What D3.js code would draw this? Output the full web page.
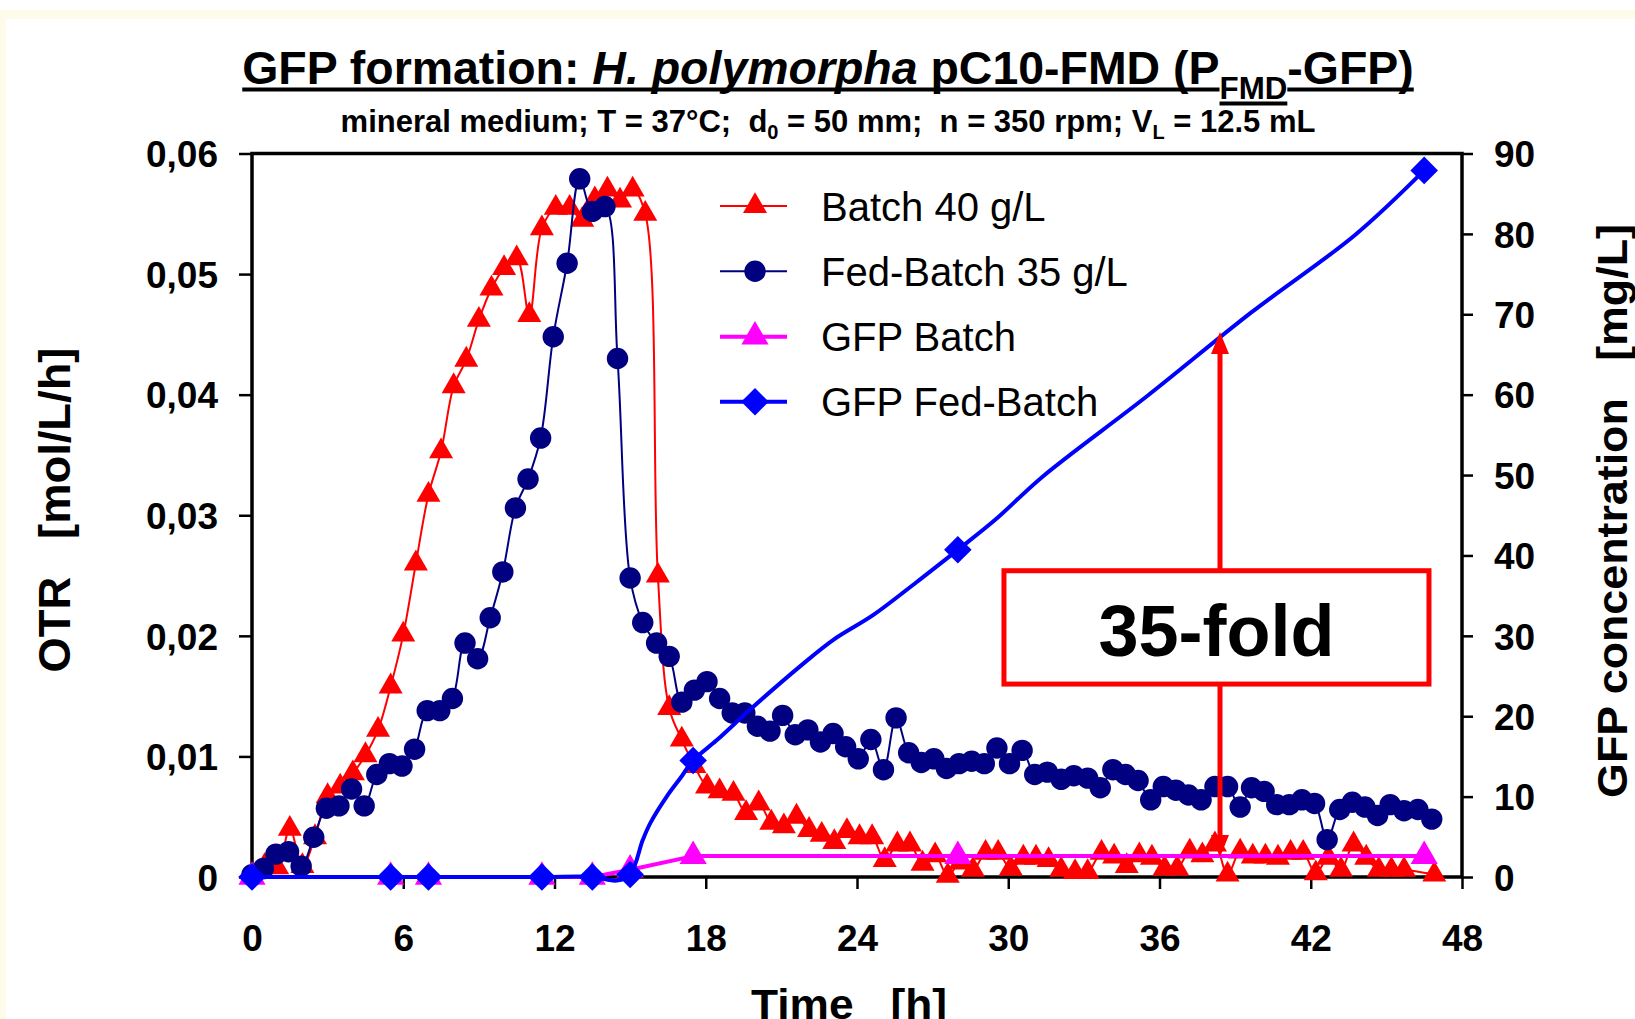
<!DOCTYPE html>
<html><head><meta charset="utf-8">
<script src="https://cdn.jsdelivr.net/npm/d3@7"></script>
<style>
html,body{margin:0;padding:0;background:#fff;}
svg{display:block;}
text{font-family:"Liberation Sans",Arial,sans-serif;}
</style></head><body>
<svg id="chart" width="1635" height="1019"></svg>
<script>
// ---------- data ----------
const timeTicks = [0, 6, 12, 18, 24, 30, 36, 42, 48];
const otrTicks = [0, 0.01, 0.02, 0.03, 0.04, 0.05, 0.06];
const otrTickLabels = ["0", "0,01", "0,02", "0,03", "0,04", "0,05", "0,06"];
const gfpTicks = [0, 10, 20, 30, 40, 50, 60, 70, 80, 90];
const gfpTickLabels = ["0", "10", "20", "30", "40", "50", "60", "70", "80", "90"];

const legendLabels = ["Batch 40 g/L", "Fed-Batch 35 g/L", "GFP Batch", "GFP Fed-Batch"];

// OTR Batch 40 g/L [time h, OTR mol/L/h]
const batchOTR = [
 [0,0],[0.5,0.0009],[1,0.0008],[1.5,0.004],[2,0.0009],[2.5,0.0033],[3,0.0067],[3.5,0.0075],
 [4,0.0086],[4.5,0.0101],[5,0.0122],[5.5,0.0158],[6,0.0201],[6.5,0.026],[7,0.0317],[7.5,0.0353],
 [8,0.0407],[8.5,0.0429],[9,0.0462],[9.5,0.0488],[10,0.0505],[10.5,0.0513],[11,0.0466],[11.5,0.0538],
 [12.05,0.0555],[12.6,0.0555],[13.1,0.0545],[13.6,0.0562],[14.1,0.057],[14.6,0.0561],[15.1,0.057],[15.6,0.055],
 [16.1,0.025],[16.55,0.014],[17.05,0.0114],[17.55,0.0092],[18.05,0.0075],[18.55,0.0071],[19.1,0.0069],[19.6,0.0053],
 [20.1,0.0061],[20.6,0.0045],[21.1,0.0042],[21.6,0.005],[22.1,0.0039],[22.6,0.0035],[23.1,0.0029],[23.6,0.0038],
 [24.1,0.0033],[24.6,0.0033],[25.1,0.0014],[25.6,0.0027],[26.1,0.0027],[26.6,0.0011],[27.1,0.0018],[27.6,0.0001],
 [28.1,0.0012],[28.6,0.0006],[29.1,0.002],[29.6,0.002],[30.1,0.0007],[30.6,0.0016],[31.1,0.0016],[31.6,0.0014],
 [32.1,0.0006],[32.65,0.0004],[33.15,0.0004],[33.7,0.002],[34.2,0.0017],[34.7,0.0009],[35.2,0.0018],[35.7,0.0016],
 [36.2,0.0007],[36.7,0.0007],[37.2,0.0021],[37.7,0.0018],[38.2,0.0027],[38.7,0.0002],[39.2,0.0021],[39.7,0.0017],
 [40.2,0.0017],[40.7,0.0016],[41.2,0.002],[41.7,0.002],[42.2,0.0003],[42.7,0.0016],[43.2,0.0006],[43.7,0.0027],
 [44.2,0.0016],[44.7,0.0006],[45.2,0.0006],[45.7,0.0006],[46.9,0.0002]
];

// OTR Fed-Batch 35 g/L [time h, OTR mol/L/h]
const fedBatchOTR = [
 [0,0.0002],[0.45,0.0007],[0.95,0.0019],[1.45,0.0021],[1.95,0.0009],[2.45,0.0033],[2.95,0.0057],[3.45,0.0059],
 [3.95,0.0073],[4.45,0.0059],[4.95,0.0085],[5.45,0.0094],[5.95,0.0092],[6.45,0.0106],[6.95,0.0138],[7.45,0.0138],
 [7.95,0.0148],[8.45,0.0194],[8.95,0.0181],[9.45,0.0215],[9.95,0.0253],[10.45,0.0306],[10.95,0.033],[11.45,0.0364],
 [11.95,0.0448],[12.5,0.0509],[13.0,0.0579],[13.5,0.0552],[14.0,0.0556],[14.5,0.043],[15.0,0.0248],[15.5,0.0211],
 [16.05,0.0194],[16.55,0.0183],[17.05,0.0145],[17.55,0.0155],[18.05,0.0162],[18.55,0.0148],[19.05,0.0136],[19.55,0.0136],
 [20.05,0.0125],[20.55,0.0121],[21.05,0.0134],[21.55,0.0118],[22.05,0.0122],[22.55,0.0112],[23.05,0.0119],[23.55,0.0108],
 [24.05,0.0098],[24.55,0.0114],[25.05,0.0089],[25.55,0.0132],[26.05,0.0103],[26.55,0.0095],[27.05,0.0098],[27.55,0.009],
 [28.05,0.0094],[28.55,0.0096],[29.05,0.0094],[29.55,0.0107],[30.05,0.0094],[30.55,0.0105],[31.05,0.0085],[31.55,0.0087],
 [32.1,0.0081],[32.6,0.0084],[33.15,0.0082],[33.65,0.0074],[34.15,0.0089],[34.65,0.0085],[35.15,0.008],[35.65,0.0064],
 [36.15,0.0075],[36.65,0.0072],[37.15,0.0068],[37.65,0.0064],[38.2,0.0075],[38.7,0.0075],[39.2,0.0058],[39.65,0.0074],
 [40.15,0.0071],[40.65,0.006],[41.15,0.006],[41.65,0.0064],[42.15,0.0061],[42.65,0.0031],[43.15,0.0056],[43.65,0.0062],
 [44.15,0.0058],[44.65,0.0051],[45.15,0.006],[45.7,0.0055],[46.25,0.0056],[46.8,0.0048]
];

// GFP concentration [time h, mg/L]
const gfpBatch = [[0,0],[5.5,0],[7,0],[11.5,0],[13.5,0],[15,0.9],[17.5,2.6],[28,2.6],[46.5,2.6]];
const gfpFedBatch = [[0,0],[5.5,0],[7,0],[11.5,0],[13.5,0],[15,0.3],[17.5,14.5],[28,40.7],[46.5,87.9]];
// line drawn through the GFP Fed-Batch values
const gfpFedBatchCurve = [
 [0,0],[5.5,0],[7,0],[11.5,0],[13.5,0],[14.07,-0.3],[14.47,-0.45],[15,0.3],[15.5,4.6],[15.8,6.7],
 [16.45,10],[17.04,12.5],[17.5,14.5],[18.43,17],[19.75,20.8],[21.74,26.2],[23.06,29.5],[24.65,32.6],
 [26.37,36.7],[28,40.7],[29.47,44.4],[31.36,49.8],[35.5,59.8],[39.63,70.2],[43.77,79.9],[46.5,87.9]
];

// annotation (time h / GFP mg/L)
const foldLabel = "35-fold";
const arrowTime = 38.4, arrowTop = 67.8, arrowBottom = 2.5;
const boxTime = [29.83, 46.69], boxGFP = [24.0, 38.1];

// ---------- drawing ----------
const W = 1635, H = 1019;
const svg = d3.select("#chart");
svg.append("rect").attr("width", W).attr("height", H).attr("fill", "#fff");
svg.append("rect").attr("x", 0).attr("y", 10).attr("width", W).attr("height", H - 10).attr("fill", "#fffbea");
svg.append("rect").attr("x", 6).attr("y", 19).attr("width", W - 6).attr("height", H - 19).attr("fill", "#fff");

const x = d3.scaleLinear().domain([0, 48]).range([252, 1462]);
const yL = d3.scaleLinear().domain([0, 0.06]).range([877, 153.5]);
const yR = d3.scaleLinear().domain([0, 90]).range([877, 153.5]);

const tickFont = 37;
function styleAxis(g) {
  g.select(".domain").remove();
  g.selectAll(".tick line").attr("stroke", "#000").attr("stroke-width", 2.5);
  g.selectAll(".tick text").attr("fill", "#000").attr("font-size", tickFont)
    .attr("font-weight", "bold").attr("font-family", '"Liberation Sans", Arial, sans-serif');
}

const gL = svg.append("g").attr("transform", "translate(252,0)")
  .call(d3.axisLeft(yL).tickValues(otrTicks).tickFormat((d, i) => otrTickLabels[i]).tickSize(13).tickSizeOuter(0).tickPadding(21));
styleAxis(gL); gL.selectAll(".tick text").attr("dy", "0.36em");

const gR = svg.append("g").attr("transform", "translate(1462,0)")
  .call(d3.axisRight(yR).tickValues(gfpTicks).tickFormat((d, i) => gfpTickLabels[i]).tickSize(11).tickSizeOuter(0).tickPadding(21));
styleAxis(gR); gR.selectAll(".tick text").attr("dy", "0.36em");

const gB = svg.append("g").attr("transform", "translate(0,877)")
  .call(d3.axisBottom(x).tickValues(timeTicks).tickFormat(d3.format("d")).tickSize(12).tickSizeOuter(0));
styleAxis(gB); gB.selectAll(".tick text").attr("dy", null).attr("y", 74);

// frame
svg.append("rect").attr("x", x(0)).attr("y", yL(0.06)).attr("width", x(48) - x(0)).attr("height", yL(0) - yL(0.06))
  .attr("fill", "none").attr("stroke", "#000").attr("stroke-width", 3.5);

// symbols
const triSym = (s) => d3.symbol().type(d3.symbolTriangle).size(s)();
const circSym = (s) => d3.symbol().type(d3.symbolCircle).size(s)();
const diamSym = (s) => d3.symbol().type(d3.symbolSquare).size(s)();

function drawSeries(data, yScale, color, lw, curve) {
  const line = d3.line().x(d => x(d[0])).y(d => yScale(d[1])).curve(curve);
  svg.append("path").datum(data).attr("d", line).attr("fill", "none").attr("stroke", color)
    .attr("stroke-width", lw).attr("stroke-linejoin", "round");
}
function drawMarkers(data, yScale, color, markerPath, rotate) {
  svg.append("g").selectAll("path").data(data).join("path")
    .attr("d", markerPath)
    .attr("transform", d => `translate(${x(d[0])},${yScale(d[1])})` + (rotate ? " rotate(45)" : ""))
    .attr("fill", color);
}

const smooth = d3.curveCatmullRom.alpha(0.5);
const triRed = triSym(250), circNavy = circSym(360), triMag = triSym(320), diamBlue = diamSym(380);
drawSeries(batchOTR, yL, "#ff0000", 2, smooth);
drawMarkers(batchOTR, yL, "#ff0000", triRed);
drawSeries(fedBatchOTR, yL, "#000080", 2, smooth);
drawMarkers(fedBatchOTR, yL, "#000080", circNavy);
drawSeries(gfpBatch, yR, "#ff00ff", 4, d3.curveLinear);
drawMarkers(gfpBatch, yR, "#ff00ff", triMag);
drawSeries(gfpFedBatchCurve, yR, "#0000ff", 4, smooth);
drawMarkers(gfpFedBatch, yR, "#0000ff", diamBlue, true);

// legend
const legendStyles = [
  {color: "#ff0000", lw: 2, path: triRed, rot: false},
  {color: "#000080", lw: 2, path: circNavy, rot: false},
  {color: "#ff00ff", lw: 4, path: triMag, rot: false},
  {color: "#0000ff", lw: 4, path: diamBlue, rot: true}
];
const legRowY = [206, 271.3, 336.7, 401.7];
const lg = svg.append("g");
legendLabels.forEach((lab, i) => {
  const s = legendStyles[i], yy = legRowY[i];
  lg.append("line").attr("x1", 720).attr("x2", 787).attr("y1", yy).attr("y2", yy).attr("stroke", s.color).attr("stroke-width", s.lw);
  lg.append("path").attr("d", s.path).attr("fill", s.color).attr("transform", `translate(755,${yy})` + (s.rot ? " rotate(45)" : ""));
  lg.append("text").attr("x", 821).attr("y", yy + 14.5).attr("font-size", 40).attr("fill", "#000").text(lab);
});

// annotation arrow
const ax = x(arrowTime);
svg.append("line").attr("x1", ax).attr("x2", ax).attr("y1", yR(arrowTop) + 18).attr("y2", yR(arrowBottom) - 18)
  .attr("stroke", "#ff0000").attr("stroke-width", 5);
svg.append("path").attr("d", `M${ax},${yR(arrowTop)} L${ax - 9},${yR(arrowTop) + 22} L${ax + 9},${yR(arrowTop) + 22} Z`).attr("fill", "#ff0000");
svg.append("path").attr("d", `M${ax},${yR(arrowBottom)} L${ax - 9},${yR(arrowBottom) - 22} L${ax + 9},${yR(arrowBottom) - 22} Z`).attr("fill", "#ff0000");
// box
svg.append("rect").attr("x", x(boxTime[0])).attr("y", yR(boxGFP[1]))
  .attr("width", x(boxTime[1]) - x(boxTime[0])).attr("height", yR(boxGFP[0]) - yR(boxGFP[1]))
  .attr("fill", "#fff").attr("stroke", "#ff0000").attr("stroke-width", 5);
svg.append("text").attr("x", (x(boxTime[0]) + x(boxTime[1])) / 2).attr("y", 656).attr("text-anchor", "middle")
  .attr("font-size", 72).attr("font-weight", "bold").attr("fill", "#000").text(foldLabel);

// helper to fit a text's advance width
function fit(sel, target, cx, cy, rot) {
  const w = sel.node().getComputedTextLength();
  let s = target / w; s = Math.max(0.85, Math.min(1.15, s));
  sel.attr("x", 0).attr("y", 0)
    .attr("transform", `translate(${cx},${cy})` + (rot ? ` rotate(${rot})` : "") + ` scale(${s},1)`);
  return s;
}

// title with manual underline
const titleG = svg.append("g");
const title = titleG.append("text").attr("text-anchor", "middle").attr("font-size", 46).attr("font-weight", "bold")
  .attr("fill", "#000").attr("xml:space", "preserve").style("white-space", "pre");
const t1 = title.append("tspan").text("GFP formation: ");
title.append("tspan").attr("font-style", "italic").text("H. polymorpha");
const t3 = title.append("tspan").text(" pC10-FMD (P");
const t4 = title.append("tspan").attr("font-size", 31).attr("dy", 15).text("FMD");
const t5 = title.append("tspan").attr("dy", -15).text("-GFP)");
const tw = title.node().getComputedTextLength();
const ts = Math.max(0.85, Math.min(1.15, 1172 / tw));
title.attr("x", 0).attr("y", 0);
titleG.attr("transform", `translate(828,83.5) scale(${ts},1)`);
try {
  const b1 = t1.node().getBBox(), b3 = t3.node().getBBox(), b4 = t4.node().getBBox(), b5 = t5.node().getBBox();
  const ul = (xa, xb, yy) => titleG.append("rect").attr("x", xa).attr("y", yy).attr("width", xb - xa).attr("height", 4).attr("fill", "#000");
  ul(b1.x, b3.x + b3.width, 4);
  ul(b4.x, b4.x + b4.width, 18);
  ul(b5.x, b5.x + b5.width, 4);
} catch (e) { title.style("text-decoration", "underline"); }

// subtitle
const sub = svg.append("text").attr("text-anchor", "middle").attr("font-size", 31).attr("font-weight", "bold")
  .attr("fill", "#000").attr("xml:space", "preserve").style("white-space", "pre");
sub.append("tspan").text("mineral medium; T = 37°C;  d");
sub.append("tspan").attr("font-size", 20).attr("dy", 7).text("0");
sub.append("tspan").attr("dy", -7).text(" = 50 mm;  n = 350 rpm; V");
sub.append("tspan").attr("font-size", 20).attr("dy", 7).text("L");
sub.append("tspan").attr("dy", -7).text(" = 12.5 mL");
fit(sub, 975, 828, 131.5);

// axis titles
const yLab = svg.append("text").attr("text-anchor", "middle").attr("font-size", 44).attr("font-weight", "bold")
  .attr("fill", "#000").attr("xml:space", "preserve").style("white-space", "pre").text("OTR   [mol/L/h]");
fit(yLab, 325, 70, 510, -90);
const yRLab = svg.append("text").attr("text-anchor", "middle").attr("font-size", 43).attr("font-weight", "bold")
  .attr("fill", "#000").attr("xml:space", "preserve").style("white-space", "pre").text("GFP concentration   [mg/L]");
fit(yRLab, 574, 1627, 511, -90);
const xLab = svg.append("text").attr("text-anchor", "middle").attr("font-size", 42).attr("font-weight", "bold")
  .attr("fill", "#000").attr("xml:space", "preserve").style("white-space", "pre").text("Time   [h]");
fit(xLab, 196, 849, 1019);
</script>
</body></html>
